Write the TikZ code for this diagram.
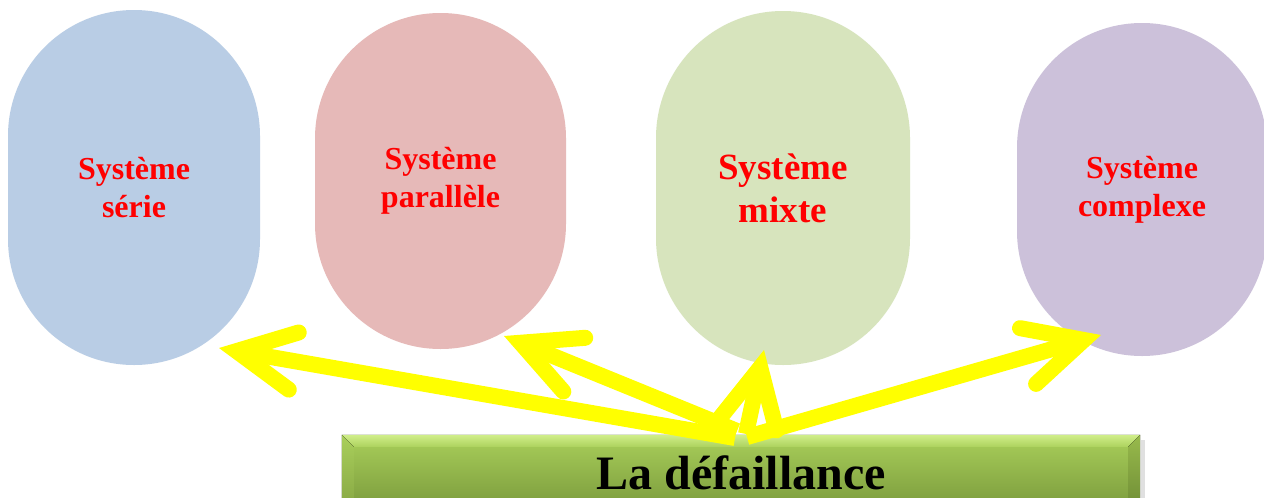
\documentclass[tikz,border=0pt]{standalone}
\usepackage{fontspec}
\setmainfont{Liberation Serif}
\usetikzlibrary{arrows.meta}
\definecolor{cblue}{HTML}{B9CDE5}
\definecolor{cpink}{HTML}{E6B9B8}
\definecolor{cgreen}{HTML}{D7E4BD}
\definecolor{cpurple}{HTML}{CCC1DA}
\definecolor{boxtop}{HTML}{A9CF5A}
\definecolor{boxbot}{HTML}{7A9A3C}
\definecolor{bevtopA}{HTML}{D0EE8A}
\definecolor{bevtopB}{HTML}{ADD25E}
\definecolor{bevleftA}{HTML}{A9CF5B}
\definecolor{bevleftB}{HTML}{86A643}
\definecolor{bevrightA}{HTML}{98BA4C}
\definecolor{bevrightB}{HTML}{6E8C35}
\definecolor{yel}{HTML}{FFFF00}
\definecolor{txtred}{HTML}{FF0000}
\begin{document}
\begin{tikzpicture}[x=1pt,y=-1pt,
  capsule/.style={rectangle, draw=none, inner sep=0pt, align=center,
    text=txtred, font=\bfseries\fontsize{32}{38}\selectfont},
  yarrow/.style={draw=yel, line width=16pt, line cap=butt,
    -{Straight Barb[length=58pt, width=58pt, line cap=round, line join=miter]}},
  titlebox/.style={rectangle, inner sep=0pt, draw=none,
    top color=boxtop, bottom color=boxbot,
    font=\bfseries\fontsize{48}{58}\selectfont, text=black}
]
\useasboundingbox (0,0) rectangle (1264,498);
\fill[white] (0,0) rectangle (1264,498);

% capsules
\node[capsule, fill=cblue, minimum width=252pt, minimum height=355pt, rounded corners=125.9pt]
  (s1) at (134,187.5) {Système\\série};
\node[capsule, fill=cpink, minimum width=251pt, minimum height=336pt, rounded corners=125.4pt]
  (s2) at (440.5,181) {Système\\parallèle};
\node[capsule, fill=cgreen, minimum width=254pt, minimum height=354pt, rounded corners=126.9pt,
  font=\bfseries\fontsize{37}{43}\selectfont]
  (s3) at (783,188) {Système\\mixte};
\node[capsule, fill=cpurple, minimum width=250pt, minimum height=333pt, rounded corners=124.9pt]
  (s4) at (1142,189.5) {Système\\complexe};

% title box
\fill[black!12] (1141,440) rectangle (1145,510);
\node[titlebox, minimum width=798pt, minimum height=75pt] (box) at (741,472.5) {La défaillance};
\fill[top color=bevtopA, bottom color=bevtopB]
  (box.north west) -- (box.north east) -- ([shift={(-12,12)}]box.north east)
  -- ([shift={(12,12)}]box.north west) -- cycle;
\fill[top color=bevleftA, bottom color=bevleftB]
  (box.north west) -- ([shift={(12,12)}]box.north west)
  -- ([shift={(12,-12)}]box.south west) -- (box.south west) -- cycle;
\fill[top color=bevrightA, bottom color=bevrightB]
  (box.north east) -- ([shift={(-12,12)}]box.north east)
  -- ([shift={(-12,-12)}]box.south east) -- (box.south east) -- cycle;

% arrow end points
\coordinate (f1) at (735,438);
\coordinate (f2) at (737,431);
\coordinate (f3) at (746,434);
\coordinate (f4) at (747,437);
\coordinate (e1) at (219,348);
\coordinate (e2) at (504,336);
\coordinate (e3) at (764,350);
\coordinate (e4) at (1101,335);

\draw[yarrow] (f1) -- (e1);
\draw[yarrow] (f2) -- (e2);
\draw[yarrow] (f3) -- (e3);
\draw[yarrow] (f4) -- (e4);
\end{tikzpicture}
\end{document}
